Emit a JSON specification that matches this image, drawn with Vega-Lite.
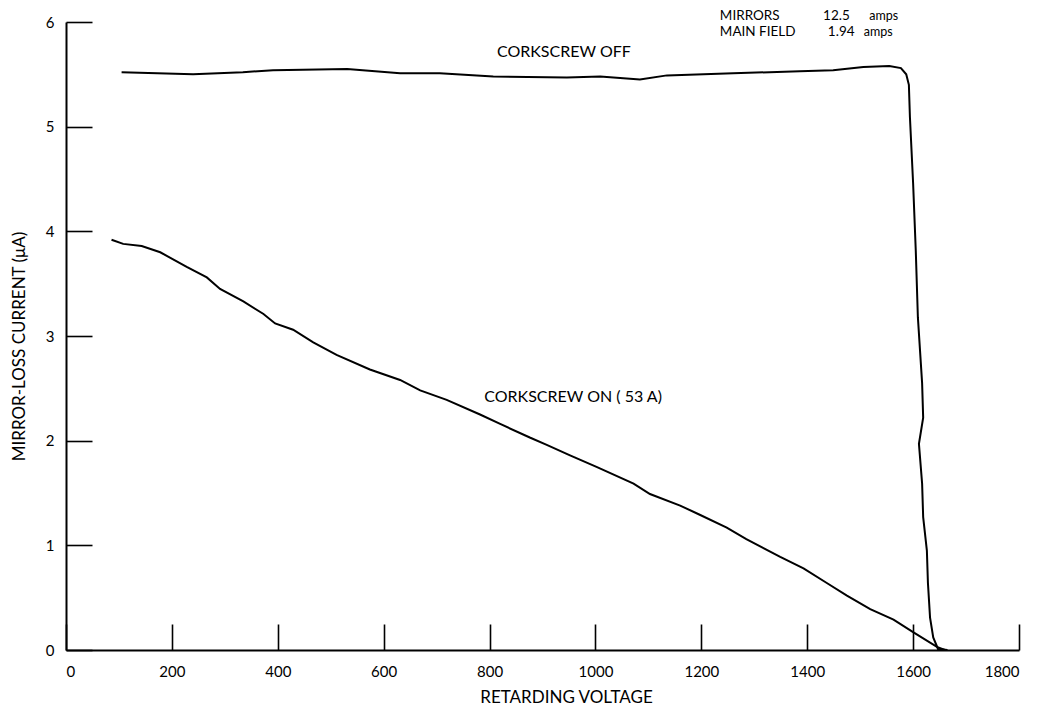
{
  "$schema": "https://vega.github.io/schema/vega-lite/v6.json",
  "width": 953,
  "height": 628,
  "autosize": {"type": "none"},
  "padding": {"left": 66, "top": 22, "right": 20, "bottom": 59},
  "background": "white",
  "config": {
    "view": {"stroke": null},
    "font": "Lato",
    "axis": {
      "grid": false,
      "domainColor": "black",
      "domainWidth": 2,
      "tickColor": "black",
      "tickWidth": 1.6,
      "tickSize": -26,
      "labelColor": "black",
      "labelFont": "Lato",
      "labelFontSize": 15,
      "titleColor": "black",
      "titleFont": "Lato",
      "titleFontWeight": "normal",
      "titleFontSize": 17
    }
  },
  "datasets": {
    "curves": [
      {"seq": 1, "series": "off", "voltage": 105, "current": 5.52},
      {"seq": 2, "series": "off", "voltage": 240, "current": 5.5},
      {"seq": 3, "series": "off", "voltage": 334, "current": 5.52},
      {"seq": 4, "series": "off", "voltage": 391, "current": 5.54},
      {"seq": 5, "series": "off", "voltage": 531, "current": 5.55},
      {"seq": 6, "series": "off", "voltage": 631, "current": 5.51},
      {"seq": 7, "series": "off", "voltage": 706, "current": 5.51},
      {"seq": 8, "series": "off", "voltage": 807, "current": 5.48},
      {"seq": 9, "series": "off", "voltage": 946, "current": 5.47},
      {"seq": 10, "series": "off", "voltage": 1009, "current": 5.48},
      {"seq": 11, "series": "off", "voltage": 1084, "current": 5.45},
      {"seq": 12, "series": "off", "voltage": 1135, "current": 5.49},
      {"seq": 13, "series": "off", "voltage": 1260, "current": 5.51},
      {"seq": 14, "series": "off", "voltage": 1386, "current": 5.53},
      {"seq": 15, "series": "off", "voltage": 1449, "current": 5.54},
      {"seq": 16, "series": "off", "voltage": 1506, "current": 5.57},
      {"seq": 17, "series": "off", "voltage": 1555, "current": 5.58},
      {"seq": 18, "series": "off", "voltage": 1577, "current": 5.56},
      {"seq": 19, "series": "off", "voltage": 1587, "current": 5.5},
      {"seq": 20, "series": "off", "voltage": 1592, "current": 5.4},
      {"seq": 21, "series": "off", "voltage": 1594, "current": 5.09},
      {"seq": 22, "series": "off", "voltage": 1600, "current": 4.46},
      {"seq": 23, "series": "off", "voltage": 1605, "current": 3.82},
      {"seq": 24, "series": "off", "voltage": 1609, "current": 3.18},
      {"seq": 25, "series": "off", "voltage": 1617, "current": 2.55},
      {"seq": 26, "series": "off", "voltage": 1619, "current": 2.22},
      {"seq": 27, "series": "off", "voltage": 1611, "current": 1.97},
      {"seq": 28, "series": "off", "voltage": 1617, "current": 1.59},
      {"seq": 29, "series": "off", "voltage": 1619, "current": 1.27},
      {"seq": 30, "series": "off", "voltage": 1626, "current": 0.95},
      {"seq": 31, "series": "off", "voltage": 1628, "current": 0.64},
      {"seq": 32, "series": "off", "voltage": 1632, "current": 0.31},
      {"seq": 33, "series": "off", "voltage": 1638, "current": 0.12},
      {"seq": 34, "series": "off", "voltage": 1647, "current": 0.01},
      {"seq": 35, "series": "off", "voltage": 1665, "current": 0.0},
      {"seq": 1, "series": "on", "voltage": 86, "current": 3.92},
      {"seq": 2, "series": "on", "voltage": 108, "current": 3.88},
      {"seq": 3, "series": "on", "voltage": 143, "current": 3.86},
      {"seq": 4, "series": "on", "voltage": 178, "current": 3.8},
      {"seq": 5, "series": "on", "voltage": 228, "current": 3.66},
      {"seq": 6, "series": "on", "voltage": 266, "current": 3.56},
      {"seq": 7, "series": "on", "voltage": 291, "current": 3.45},
      {"seq": 8, "series": "on", "voltage": 335, "current": 3.33},
      {"seq": 9, "series": "on", "voltage": 373, "current": 3.21},
      {"seq": 10, "series": "on", "voltage": 395, "current": 3.12},
      {"seq": 11, "series": "on", "voltage": 429, "current": 3.06},
      {"seq": 12, "series": "on", "voltage": 467, "current": 2.94},
      {"seq": 13, "series": "on", "voltage": 511, "current": 2.82},
      {"seq": 14, "series": "on", "voltage": 574, "current": 2.68},
      {"seq": 15, "series": "on", "voltage": 631, "current": 2.58},
      {"seq": 16, "series": "on", "voltage": 669, "current": 2.48},
      {"seq": 17, "series": "on", "voltage": 719, "current": 2.39},
      {"seq": 18, "series": "on", "voltage": 782, "current": 2.25},
      {"seq": 19, "series": "on", "voltage": 820, "current": 2.16},
      {"seq": 20, "series": "on", "voltage": 876, "current": 2.03},
      {"seq": 21, "series": "on", "voltage": 908, "current": 1.96},
      {"seq": 22, "series": "on", "voltage": 952, "current": 1.86},
      {"seq": 23, "series": "on", "voltage": 1002, "current": 1.75},
      {"seq": 24, "series": "on", "voltage": 1072, "current": 1.59},
      {"seq": 25, "series": "on", "voltage": 1103, "current": 1.49},
      {"seq": 26, "series": "on", "voltage": 1160, "current": 1.38},
      {"seq": 27, "series": "on", "voltage": 1198, "current": 1.29},
      {"seq": 28, "series": "on", "voltage": 1248, "current": 1.17},
      {"seq": 29, "series": "on", "voltage": 1285, "current": 1.06},
      {"seq": 30, "series": "on", "voltage": 1349, "current": 0.89},
      {"seq": 31, "series": "on", "voltage": 1393, "current": 0.78},
      {"seq": 32, "series": "on", "voltage": 1437, "current": 0.64},
      {"seq": 33, "series": "on", "voltage": 1475, "current": 0.52},
      {"seq": 34, "series": "on", "voltage": 1519, "current": 0.39},
      {"seq": 35, "series": "on", "voltage": 1563, "current": 0.29},
      {"seq": 36, "series": "on", "voltage": 1600, "current": 0.17},
      {"seq": 37, "series": "on", "voltage": 1645, "current": 0.03},
      {"seq": 38, "series": "on", "voltage": 1660, "current": 0.0}
    ],
    "curveLabels": [
      {"text": "CORKSCREW OFF", "voltage": 814, "current": 5.665},
      {"text": "CORKSCREW ON ( 53 A)", "voltage": 790, "current": 2.37}
    ],
    "settings": [
      {"text": "MIRRORS", "voltage": 1235, "current": 6.015},
      {"text": "12.5", "voltage": 1430, "current": 6.015},
      {"text": "MAIN FIELD", "voltage": 1235, "current": 5.87},
      {"text": "1.94", "voltage": 1439, "current": 5.87}
    ],
    "units": [
      {"text": "amps", "voltage": 1517, "current": 6.015},
      {"text": "amps", "voltage": 1507, "current": 5.87}
    ]
  },
  "layer": [
    {
      "data": {"name": "curves"},
      "mark": {"type": "line", "color": "black", "strokeWidth": 2, "clip": false},
      "encoding": {
        "x": {
          "field": "voltage",
          "type": "quantitative",
          "scale": {"domain": [0, 1800], "nice": false},
          "axis": {
            "values": [0, 200, 400, 600, 800, 1000, 1200, 1400, 1600, 1800],
            "format": "d",
            "title": "RETARDING VOLTAGE",
            "labelPadding": 40,
            "titleX": 500,
            "titleY": 52,
            "titleBaseline": "alphabetic",
            "titleAnchor": null
          }
        },
        "y": {
          "field": "current",
          "type": "quantitative",
          "scale": {"domain": [0, 6], "nice": false},
          "axis": {
            "values": [0, 1, 2, 3, 4, 5, 6],
            "format": "d",
            "title": "MIRROR-LOSS CURRENT (μA)",
            "labelPadding": 38,
            "titleX": -42,
            "titleY": 324,
            "titleAngle": -90,
            "titleBaseline": "alphabetic",
            "titleAlign": "center"
          }
        },
        "detail": {"field": "series"},
        "order": {"field": "seq", "type": "quantitative"}
      }
    },
    {
      "data": {"name": "curveLabels"},
      "mark": {"type": "text", "align": "left", "baseline": "alphabetic", "fontSize": 16, "color": "black", "font": "Lato"},
      "encoding": {
        "x": {"field": "voltage", "type": "quantitative"},
        "y": {"field": "current", "type": "quantitative"},
        "text": {"field": "text"}
      }
    },
    {
      "data": {"name": "settings"},
      "mark": {"type": "text", "align": "left", "baseline": "alphabetic", "fontSize": 13.5, "color": "black", "font": "Lato"},
      "encoding": {
        "x": {"field": "voltage", "type": "quantitative"},
        "y": {"field": "current", "type": "quantitative"},
        "text": {"field": "text"}
      }
    },
    {
      "data": {"name": "units"},
      "mark": {"type": "text", "align": "left", "baseline": "alphabetic", "fontSize": 12.5, "color": "black", "font": "Lato"},
      "encoding": {
        "x": {"field": "voltage", "type": "quantitative"},
        "y": {"field": "current", "type": "quantitative"},
        "text": {"field": "text"}
      }
    }
  ]
}
